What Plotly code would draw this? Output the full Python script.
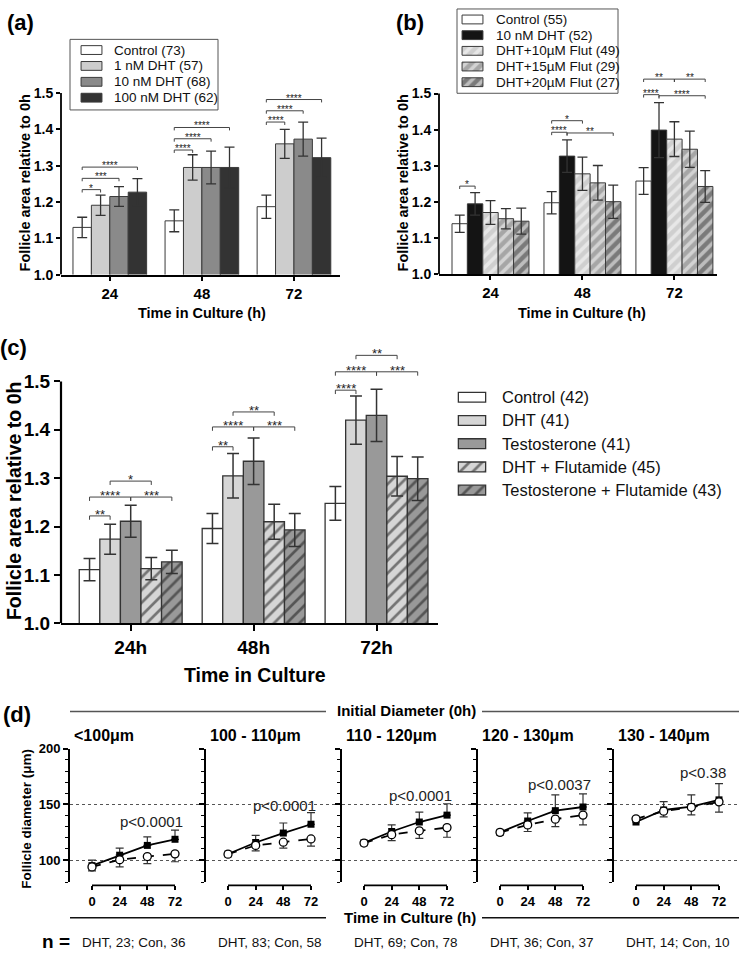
import plotly.graph_objects as go

W, H = 739, 961
FONT = "Liberation Sans, Arial, Helvetica, sans-serif"

# ---------------- data : panel (a) ----------------
a_times = ["24", "48", "72"]
a_names = ["Control (73)", "1 nM DHT (57)", "10 nM DHT (68)", "100 nM DHT (62)"]
a_control = [1.130, 1.148, 1.187]
a_control_err = [0.028, 0.030, 0.032]
a_dht1 = [1.191, 1.295, 1.360]
a_dht1_err = [0.028, 0.035, 0.040]
a_dht10 = [1.215, 1.295, 1.373]
a_dht10_err = [0.027, 0.045, 0.047]
a_dht100 = [1.227, 1.295, 1.322]
a_dht100_err = [0.037, 0.056, 0.054]
# (group, from series, to series, level, label)
a_brackets = [
    (0, 0, 1, 1.234, "*"), (0, 0, 2, 1.265, "***"), (0, 0, 3, 1.296, "****"),
    (1, 0, 1, 1.343, "****"), (1, 0, 2, 1.374, "****"), (1, 0, 3, 1.405, "****"),
    (2, 0, 1, 1.420, "****"), (2, 0, 2, 1.451, "****"), (2, 0, 3, 1.482, "****"),
]

# ---------------- data : panel (b) ----------------
b_times = ["24", "48", "72"]
b_names = ["Control (55)", "10 nM DHT (52)", "DHT+10µM Flut (49)",
           "DHT+15µM Flut (29)", "DHT+20µM Flut (27)"]
b_control = [1.140, 1.198, 1.258]
b_control_err = [0.024, 0.031, 0.037]
b_dht = [1.195, 1.327, 1.399]
b_dht_err = [0.031, 0.045, 0.076]
b_f10 = [1.171, 1.278, 1.374]
b_f10_err = [0.033, 0.046, 0.048]
b_f15 = [1.154, 1.253, 1.346]
b_f15_err = [0.028, 0.048, 0.050]
b_f20 = [1.147, 1.201, 1.243]
b_f20_err = [0.036, 0.046, 0.044]
b_brackets = [
    (0, 0, 1, 1.244, "*"),
    (1, 0, 1, 1.393, "****"), (1, 0, 2, 1.425, "*"), (1, 1, 4, 1.391, "**"),
    (2, 0, 1, 1.497, "****"), (2, 1, 4, 1.494, "****"),
    (2, 0, 2, 1.540, "**"), (2, 2, 4, 1.540, "**"),
]

# ---------------- data : panel (c) ----------------
c_times = ["24h", "48h", "72h"]
c_names = ["Control (42)", "DHT (41)", "Testosterone (41)",
           "DHT + Flutamide (45)", "Testosterone + Flutamide (43)"]
c_control = [1.111, 1.196, 1.248]
c_control_err = [0.023, 0.031, 0.035]
c_dht = [1.174, 1.305, 1.420]
c_dht_err = [0.031, 0.046, 0.050]
c_testo = [1.211, 1.335, 1.430]
c_testo_err = [0.033, 0.048, 0.054]
c_dhtf = [1.113, 1.210, 1.304]
c_dhtf_err = [0.023, 0.036, 0.041]
c_tf = [1.127, 1.193, 1.299]
c_tf_err = [0.024, 0.034, 0.045]
c_brackets = [
    (0, 0, 1, 1.222, "**"), (0, 0, 2, 1.261, "****"), (0, 2, 4, 1.261, "***"), (0, 1, 3, 1.294, "*"),
    (1, 0, 1, 1.365, "**"), (1, 0, 2, 1.406, "****"), (1, 2, 4, 1.406, "***"), (1, 1, 3, 1.437, "**"),
    (2, 0, 1, 1.482, "****"), (2, 0, 2, 1.520, "****"), (2, 2, 4, 1.520, "***"), (2, 1, 3, 1.554, "**"),
]

bar_ticks = [1.0, 1.1, 1.2, 1.3, 1.4, 1.5]

# ---------------- data : panel (d) ----------------
d_hours = [0, 24, 48, 72]
d_bins = ["&lt;100μm", "100 - 110μm", "110 - 120μm", "120 - 130μm", "130 - 140μm"]
d_dht_mean = [
    [95.0, 104.4, 113.2, 118.7],
    [105.5, 115.8, 124.3, 132.2],
    [115.5, 125.7, 134.2, 140.4],
    [124.9, 135.1, 144.4, 147.7],
    [134.2, 145.0, 148.0, 154.1],
]
d_dht_err = [
    [5.0, 6.4, 7.6, 8.2],
    [1.5, 6.4, 9.0, 10.5],
    [1.5, 6.0, 8.8, 10.2],
    [1.5, 7.3, 14.1, 11.7],
    [1.5, 7.6, 10.5, 14.6],
]
d_con_mean = [
    [93.9, 100.3, 103.2, 105.6],
    [105.3, 113.2, 116.1, 119.0],
    [115.3, 122.8, 126.3, 129.2],
    [124.9, 131.6, 136.8, 140.4],
    [137.1, 143.9, 147.4, 152.3],
]
d_con_err = [
    [3.5, 6.4, 6.4, 7.1],
    [1.5, 5.0, 5.3, 6.4],
    [1.5, 5.3, 6.7, 8.7],
    [1.5, 5.9, 6.7, 8.8],
    [1.5, 5.0, 6.8, 9.3],
]
d_none = [0, 0, 0, 0]
d_pvals = ["p&lt;0.0001", "p&lt;0.0001", "p&lt;0.0001", "p&lt;0.0037", "p&lt;0.38"]
d_pval_pos = [(51.8, 135.0), (48.6, 149.4), (48.6, 158.2), (51.2, 167.5), (58.0, 179.0)]
d_n = ["DHT, 23; Con, 36", "DHT, 83; Con, 58", "DHT, 69; Con, 78",
       "DHT, 36; Con, 37", "DHT, 14; Con, 10"]
d_yticks = [100, 150, 200]
d_xticks = [0, 24, 48, 72]

# ---------------- helpers ----------------
fig = go.Figure()


def px_x(p):
    return p / W


def px_y(p):
    return 1 - p / H


def bold(size):
    return dict(family=FONT, size=size, color="black", weight="bold")


def add_bar_panel(ax, names, means, errs, markers, frac, capw, ethick):
    n = len(names)
    w = frac / n
    for i, (nm, m, e, mk) in enumerate(zip(names, means, errs, markers)):
        fig.add_trace(go.Bar(
            x=[0, 1, 2], y=m, name=nm, width=w, offset=-frac / 2 + i * w,
            marker=mk, showlegend=False,
            error_y=dict(type="data", array=e, color="#333", thickness=ethick, width=capw),
            xaxis="x" + ax, yaxis="y" + ax, hoverinfo="skip"))


def add_brackets(ax, brackets, n, frac, tick, fsize, shift):
    w = frac / n
    for g, i, j, lvl, lab in brackets:
        x0 = g - frac / 2 + (i + 0.5) * w
        x1 = g - frac / 2 + (j + 0.5) * w
        fig.add_shape(type="path",
                      path=f"M{x0},{lvl - tick} L{x0},{lvl} L{x1},{lvl} L{x1},{lvl - tick}",
                      xref="x" + ax, yref="y" + ax, line=dict(color="#444", width=1))
        fig.add_annotation(x=(x0 + x1) / 2, y=lvl, xref="x" + ax, yref="y" + ax,
                           text=lab, showarrow=False, yanchor="bottom", yshift=shift,
                           font=dict(family=FONT, size=fsize, color="#222"))


def bar_axes(ax, xdom, ydom, xrange, yrange, ticktext, xfs, yfs, ticklen, lw):
    xk, yk = "xaxis" + ax, "yaxis" + ax
    fig.update_layout({
        xk: dict(domain=xdom, range=xrange, tickmode="array", tickvals=[0, 1, 2],
                 ticktext=ticktext, ticks="outside", ticklen=ticklen, tickwidth=lw,
                 tickcolor="black", showline=True, linecolor="black", linewidth=lw,
                 showgrid=False, zeroline=False, anchor="y" + ax, tickfont=bold(xfs)),
        yk: dict(domain=ydom, range=yrange, tickmode="array", tickvals=bar_ticks,
                 tickformat=".1f", ticks="outside", ticklen=ticklen, tickwidth=lw,
                 tickcolor="black", showline=False, showgrid=False, zeroline=False,
                 anchor="x" + ax, tickfont=bold(yfs)),
    })
    fig.add_shape(type="line", xref=("x" + ax + " domain"), yref="y" + ax,
                  x0=0, x1=0, y0=1.0, y1=1.5, line=dict(color="black", width=lw))


def ydom(p10, p15, top):
    per = (p10 - p15) / 0.5
    return [px_y(p10), px_y(p10 - (top - 1.0) * per)]


def add_key(ax, names, markers, sw_left, sw_w, sw_h, top, row_h, text_left, fsize, box=None):
    """Legend drawn as a small bar chart (one swatch per series) plus text labels."""
    n = len(names)
    fig.update_layout({
        "xaxis" + ax: dict(domain=[px_x(sw_left - 1), px_x(sw_left + sw_w + 1)],
                           range=[-0.05, 1.05], visible=False, anchor="y" + ax),
        "yaxis" + ax: dict(domain=[px_y(top + n * row_h), px_y(top)],
                           range=[n - 0.5, -0.5], visible=False, anchor="x" + ax),
    })
    for i, (nm, mk) in enumerate(zip(names, markers)):
        fig.add_trace(go.Bar(x=[1], y=[i], base=0, orientation="h", width=sw_h / row_h,
                             marker=mk, xaxis="x" + ax, yaxis="y" + ax,
                             showlegend=False, hoverinfo="skip"))
        fig.add_annotation(xref="paper", yref="paper", x=px_x(text_left),
                           y=px_y(top + (i + 0.5) * row_h), xanchor="left", yanchor="middle",
                           text=nm, showarrow=False,
                           font=dict(family=FONT, size=fsize, color="#111"))
    if box:
        fig.add_shape(type="rect", xref="paper", yref="paper",
                      x0=px_x(box[0]), x1=px_x(box[2]), y0=px_y(box[3]), y1=px_y(box[1]),
                      line=dict(color="#555", width=1), fillcolor="rgba(0,0,0,0)", layer="below")


OL = dict(color="#3a3a3a", width=1)

# ---------------- panel (a) ----------------
a_markers = [
    dict(color="white", line=OL),
    dict(color="#cdcdcd", line=OL),
    dict(color="#8a8a8a", line=OL),
    dict(color="#333333", line=OL),
]
A_FRAC = 0.80
add_bar_panel("", a_names, [a_control, a_dht1, a_dht10, a_dht100],
              [a_control_err, a_dht1_err, a_dht10_err, a_dht100_err],
              a_markers, A_FRAC, 5, 1.3)
bar_axes("", [px_x(61), px_x(340)], ydom(272, 86.7, 1.5), [-0.53, 2.5], [1.0, 1.5],
         a_times, 15, 14, 4, 1.8)
add_brackets("", a_brackets, 4, A_FRAC, 0.008, 10, -6)
add_key("9", a_names, a_markers, 81, 21, 9, 34.8, 16.2, 112, 13.5, box=(70, 32, 218, 104))

# ---------------- panel (b) ----------------
b_markers = [
    dict(color="white", line=OL),
    dict(color="#141414", line=OL),
    dict(color="#cfcfcf", line=OL, pattern=dict(shape="/", fgcolor="white", bgcolor="#cfcfcf", size=8, solidity=0.45)),
    dict(color="#a6a6a6", line=OL, pattern=dict(shape="/", fgcolor="white", bgcolor="#a6a6a6", size=8, solidity=0.45)),
    dict(color="#7a7a7a", line=OL, pattern=dict(shape="/", fgcolor="white", bgcolor="#7a7a7a", size=8, solidity=0.45)),
]
B_FRAC = 0.837
add_bar_panel("2", b_names, [b_control, b_dht, b_f10, b_f15, b_f20],
              [b_control_err, b_dht_err, b_f10_err, b_f15_err, b_f20_err],
              b_markers, B_FRAC, 5, 1.3)
bar_axes("2", [px_x(439), px_x(716.7)], ydom(271.7, 87.3, 1.55), [-0.56, 2.46], [1.0, 1.55],
         b_times, 15, 14, 4, 1.8)
add_brackets("2", b_brackets, 5, B_FRAC, 0.008, 10, -6)
add_key("10", b_names, b_markers, 462, 21, 9, 3.7, 16, 494, 13.5, box=(457, 1, 618, 87))

# ---------------- panel (c) ----------------
OLC = dict(color="#333", width=1.3)
c_markers = [
    dict(color="white", line=OLC),
    dict(color="#d6d6d6", line=OLC),
    dict(color="#999999", line=OLC),
    dict(color="#d6d6d6", line=OLC, pattern=dict(shape="/", fgcolor="#111", bgcolor="#d6d6d6", size=9, solidity=0.3)),
    dict(color="#999999", line=OLC, pattern=dict(shape="/", fgcolor="#111", bgcolor="#999999", size=9, solidity=0.3)),
]
C_FRAC = 0.837
add_bar_panel("3", c_names, [c_control, c_dht, c_testo, c_dhtf, c_tf],
              [c_control_err, c_dht_err, c_testo_err, c_dhtf_err, c_tf_err],
              c_markers, C_FRAC, 6, 1.5)
bar_axes("3", [px_x(61), px_x(438)], ydom(627.7, 381, 1.56), [-0.567, 2.5], [1.0, 1.56],
         c_times, 19, 19, 6, 2.2)
add_brackets("3", c_brackets, 5, C_FRAC, 0.008, 13, -8)
add_key("11", c_names, c_markers, 458, 28, 10, 385.2, 23.7, 500, 16.5)

# ---------------- panel (d) ----------------
D_LEFT0, D_STEP = 70, 136
PX_PER_H = 83 / 72
ZERO_OFF = 22
D_Y_BOTTOM, D_Y_TOP = 892, 755.7
D_XAXIS_PY = 895

for k in range(5):
    ax = str(4 + k)
    left = D_LEFT0 + k * D_STEP
    right = min(left + D_STEP, W)
    xmin = -ZERO_OFF / PX_PER_H
    xmax = xmin + (right - left) / PX_PER_H

    fig.add_trace(go.Scatter(
        x=d_hours, y=d_dht_mean[k], mode="lines+markers", showlegend=False,
        line=dict(color="black", width=1.8),
        marker=dict(symbol="square", size=7, color="black"),
        error_y=dict(type="data", symmetric=False, array=d_dht_err[k], arrayminus=d_none,
                     color="#333", thickness=1.2, width=4),
        xaxis="x" + ax, yaxis="y" + ax, cliponaxis=False, hoverinfo="skip"))
    fig.add_trace(go.Scatter(
        x=d_hours, y=d_con_mean[k], mode="lines+markers", showlegend=False,
        line=dict(color="black", width=1.8, dash="dash"),
        marker=dict(symbol="circle", size=8, color="white", line=dict(color="black", width=1.3)),
        error_y=dict(type="data", symmetric=False, array=d_none, arrayminus=d_con_err[k],
                     color="#333", thickness=1.2, width=4),
        xaxis="x" + ax, yaxis="y" + ax, cliponaxis=False, hoverinfo="skip"))

    fig.update_layout({
        "xaxis" + ax: dict(domain=[px_x(left), px_x(right)], range=[xmin, xmax],
                           anchor="free", position=px_y(D_XAXIS_PY),
                           tickmode="array", tickvals=d_xticks, ticks="outside", ticklen=4,
                           tickwidth=1.5, tickcolor="black", showline=False, showgrid=False,
                           zeroline=False, tickfont=bold(13)),
        "yaxis" + ax: dict(domain=[px_y(D_Y_BOTTOM), px_y(D_Y_TOP)], range=[80, 200],
                           tickmode="array", tickvals=d_yticks, showticklabels=(k == 0),
                           ticks="outside", ticklen=5, tickwidth=1.5, tickcolor="black",
                           showline=True, linewidth=2, linecolor="black",
                           showgrid=True, gridcolor="#555", griddash="dot", gridwidth=1,
                           zeroline=False, anchor="x" + ax, tickfont=bold(13),
                           minor=dict(tickmode="array", tickvals=list(range(80, 201, 10)),
                                      ticks="outside", ticklen=3, tickwidth=1.2,
                                      tickcolor="black", showgrid=False)),
    })
    # offset x-axis line (0-72h)
    fig.add_shape(type="line", xref="x" + ax, yref="paper", x0=d_xticks[0], x1=d_xticks[-1],
                  y0=px_y(D_XAXIS_PY), y1=px_y(D_XAXIS_PY), line=dict(color="black", width=1.8))
    # size-bin header
    fig.add_annotation(xref="x" + ax + " domain", x=0, xanchor="left", xshift=2,
                       yref="paper", y=px_y(741.7), yanchor="middle", showarrow=False,
                       text="<b>" + d_bins[k] + "</b>", font=bold(16))
    # p value
    fig.add_annotation(xref="x" + ax, yref="y" + ax, x=d_pval_pos[k][0], y=d_pval_pos[k][1],
                       text=d_pvals[k], showarrow=False, xanchor="center", yanchor="middle",
                       font=dict(family=FONT, size=15, color="#222"))
    # n label
    fig.add_annotation(xref="x" + ax, yref="paper", x=36, y=px_y(953), text=d_n[k],
                       showarrow=False, xanchor="center", yanchor="middle",
                       font=dict(family=FONT, size=13.5, color="#111"))

# header / footer lines for (d)
for (x0, x1, py, col) in [(70, 326, 717.7, "#555"), (482, 739, 717.7, "#555"),
                          (70, 326, 928, "#111"), (482, 739, 928, "#111")]:
    fig.add_shape(type="line", xref="paper", yref="paper", x0=px_x(x0), x1=px_x(x1),
                  y0=px_y(py), y1=px_y(py), line=dict(color=col, width=1.5))

# ---------------- text annotations ----------------
texts = [
    # text, x px, y px, size, angle
    ("(a)", 20, 15, 22, 0),
    ("(b)", 410, 15, 22, 0),
    ("(c)", 13, 346, 22, 0),
    ("(d)", 17, 721, 22, 0),
    ("Follicle area relative to 0h", 25, 179, 14.5, -90),
    ("Time in Culture (h)", 201.7, 311, 14.5, 0),
    ("Follicle area relative to 0h", 403, 179, 14.5, -90),
    ("Time in Culture (h)", 582, 311, 14.5, 0),
    ("Follicle area relative to 0h", 14, 503, 19.5, -90),
    ("Time in Culture", 255, 680, 19.5, 0),
    ("Initial Diameter (0h)", 407, 717, 15, 0),
    ("Time in Culture (h)", 410, 928, 15, 0),
    ("Follicle diameter (μm)", 27, 827, 13.5, -90),
    ("n =", 56, 952, 19, 0),
]
for t, x, y, s, ang in texts:
    fig.add_annotation(xref="paper", yref="paper", x=px_x(x), y=px_y(y), text="<b>" + t + "</b>",
                       showarrow=False, textangle=ang, xanchor="center", yanchor="middle",
                       font=bold(s))

# ---------------- layout ----------------
fig.update_layout(
    width=W, height=H, margin=dict(l=0, r=0, t=0, b=0),
    paper_bgcolor="white", plot_bgcolor="rgba(0,0,0,0)",
    barmode="overlay", showlegend=False, hovermode=False,
    font=dict(family=FONT, color="black"),
)

fig.write_html("out.html", config={"displayModeBar": False},
               post_script="document.body.style.margin='0';document.body.style.padding='0';"
                           "document.body.style.overflow='hidden';")
